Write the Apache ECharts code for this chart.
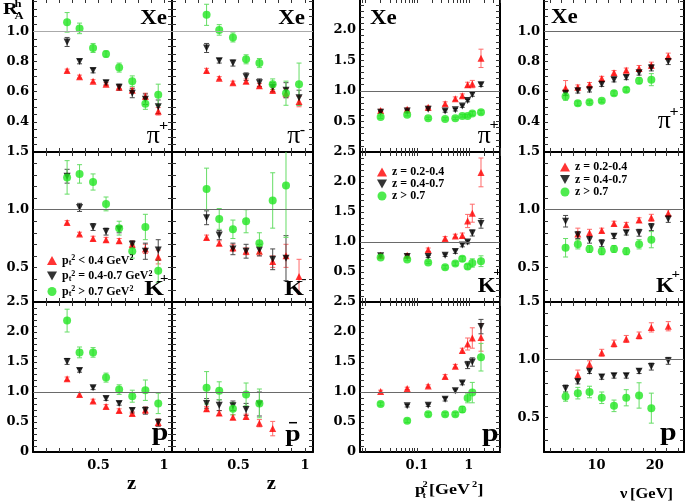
<!DOCTYPE html>
<html><head><meta charset="utf-8">
<script src="https://cdn.jsdelivr.net/npm/echarts@6/dist/echarts.min.js"></script>
<style>html,body{margin:0;padding:0;background:#fff}#c{width:685px;height:502px}</style>
</head><body><div id="c"></div><script>
// ---------- x positions ----------
const zBins   = [0.26, 0.355, 0.458, 0.557, 0.657, 0.757, 0.857, 0.955];
const pt2Bins = [0.02, 0.065, 0.165, 0.35, 0.55, 0.75, 0.95, 1.17, 1.72];
const nuBins  = [4.7, 6.8, 8.8, 10.9, 13.0, 15.1, 17.3, 19.4, 22.3];

// ---------- tick labels ----------
const zTickLabels   = [0.5, 1];
const pt2TickLabels = [0.1, 1];
const nuTickLabels  = [10, 20];
const yLabelsTop    = [0.4, 0.6, 0.8, 1.0];
const yLabelsMid    = [0.5, 1.0, 1.5];
const yLabelsWide   = [0, 0.5, 1.0, 1.5, 2.0, 2.5];
const yLabelsPtTop  = [0.5, 1.0, 1.5, 2.0];
const yLabelsPtMid  = [0.5, 1.0, 1.5, 2.0, 2.5];

// ---------- series names ----------
const ptNames = ['pt2 < 0.4', 'pt2 = 0.4-0.7', 'pt2 > 0.7'];
const zNames  = ['z = 0.2-0.4', 'z = 0.4-0.7', 'z > 0.7'];

// ---------- R vs z ----------
const zPiPlusLow     = [0.74, 0.70, 0.67, 0.65, 0.63, 0.61, 0.57, 0.47];
const zPiPlusLowErr  = [0.01, 0.01, 0.01, 0.01, 0.01, 0.015, 0.02, 0.025];
const zPiPlusMid     = [0.93, 0.80, 0.74, 0.66, 0.63, 0.59, 0.55, 0.50];
const zPiPlusMidErr  = [0.03, 0.015, 0.015, 0.015, 0.02, 0.03, 0.035, 0.045];
const zPiPlusHigh    = [1.06, 1.02, 0.89, 0.85, 0.76, 0.67, 0.52, 0.58];
const zPiPlusHighErr = [0.065, 0.035, 0.03, 0.02, 0.03, 0.035, 0.037, 0.07];

const zPiMinusLow     = [0.74, 0.69, 0.66, 0.67, 0.64, 0.61, 0.59, 0.535];
const zPiMinusLowErr  = [0.015, 0.01, 0.01, 0.015, 0.015, 0.02, 0.03, 0.035];
const zPiMinusMid     = [0.89, 0.805, 0.79, 0.70, 0.66, 0.63, 0.61, 0.56];
const zPiMinusMidErr  = [0.03, 0.015, 0.02, 0.025, 0.025, 0.03, 0.05, 0.05];
const zPiMinusHigh    = [1.11, 1.01, 0.96, 0.815, 0.79, 0.65, 0.59, 0.65];
const zPiMinusHighErr = [0.07, 0.035, 0.03, 0.03, 0.03, 0.035, 0.08, 0.14];

const zKPlusLow     = [0.89, 0.79, 0.75, 0.74, 0.73, 0.70, 0.66, 0.59];
const zKPlusLowErr  = [0.015, 0.015, 0.02, 0.02, 0.02, 0.03, 0.04, 0.06];
const zKPlusMid     = [1.29, 1.02, 0.85, 0.81, 0.83, 0.70, 0.64, 0.65];
const zKPlusMidErr  = [0.06, 0.035, 0.03, 0.03, 0.03, 0.03, 0.07, 0.09];
const zKPlusHigh    = [1.28, 1.31, 1.24, 1.05, 0.84, 0.64, 0.85, 0.47];
const zKPlusHighErr = [0.145, 0.08, 0.07, 0.06, 0.06, 0.06, 0.11, 0.10];

const zKMinusLow     = [0.76, 0.71, 0.67, 0.64, 0.64, 0.55, 0.60, 0.42];
const zKMinusLowErr  = [0.02, 0.02, 0.03, 0.03, 0.04, 0.05, 0.10, 0.15];
const zKMinusMid     = [0.93, 0.78, 0.66, 0.64, 0.65, 0.57, 0.58, null];
const zKMinusMidErr  = [0.06, 0.04, 0.05, 0.06, 0.05, 0.09, 0.195, null];
const zKMinusHigh    = [1.18, 0.92, 0.83, 0.90, 0.71, 1.08, 1.21, null];
const zKMinusHighErr = [0.18, 0.09, 0.08, 0.10, 0.09, 0.24, 0.45, null];

const zPLow     = [1.22, 0.96, 0.85, 0.76, 0.69, 0.64, 0.70, 0.49];
const zPLowErr  = [0.03, 0.03, 0.03, 0.03, 0.03, 0.03, 0.05, 0.06];
const zPMid     = [1.51, 1.36, 1.07, 0.89, 0.81, 0.69, 0.69, 0.49];
const zPMidErr  = [0.05, 0.03, 0.03, 0.03, 0.03, 0.04, 0.06, 0.06];
const zPHigh    = [2.19, 1.66, 1.66, 1.24, 1.04, 0.93, 1.03, 0.81];
const zPHighErr = [0.19, 0.09, 0.08, 0.075, 0.08, 0.10, 0.17, 0.17];

const zPbarLow     = [0.72, 0.65, 0.58, 0.59, 0.48, 0.39, null, null];
const zPbarLowErr  = [0.04, 0.04, 0.04, 0.04, 0.06, 0.12, null, null];
const zPbarMid     = [0.81, 0.78, 0.77, 0.71, 0.80, null, null, null];
const zPbarMidErr  = [0.08, 0.09, 0.08, 0.10, 0.20, null, null, null];
const zPbarHigh    = [1.07, 1.02, 0.72, 0.96, 0.81, null, null, null];
const zPbarHighErr = [0.27, 0.15, 0.10, 0.19, 0.24, null, null, null];

// ---------- R vs pt2 ----------
const ptPiPlusLow     = [0.68, 0.70, 0.73, 0.79, 0.87, 0.92, 1.10, 1.11, 1.53];
const ptPiPlusLowErr  = [0.02, 0.02, 0.02, 0.03, 0.03, 0.03, 0.04, 0.06, 0.15];
const ptPiPlusMid     = [0.65, 0.67, 0.70, 0.67, 0.69, 0.75, 0.84, 0.94, 1.10];
const ptPiPlusMidErr  = [0.02, 0.02, 0.02, 0.02, 0.02, 0.02, 0.02, 0.03, 0.03];
const ptPiPlusHigh    = [0.57, 0.61, 0.55, 0.54, 0.55, 0.59, 0.59, 0.63, 0.65];
const ptPiPlusHighErr = [0.02, 0.02, 0.02, 0.02, 0.02, 0.02, 0.02, 0.03, 0.03];

const ptKPlusLow     = [0.78, 0.78, 0.87, 1.06, 1.10, 1.11, 1.35, 1.48, 2.16];
const ptKPlusLowErr  = [0.02, 0.02, 0.03, 0.03, 0.03, 0.04, 0.11, 0.15, 0.24];
const ptKPlusMid     = [0.77, 0.76, 0.76, 0.78, 0.84, 0.95, 1.00, 1.15, 1.31];
const ptKPlusMidErr  = [0.02, 0.02, 0.02, 0.02, 0.03, 0.03, 0.03, 0.05, 0.08];
const ptKPlusHigh    = [0.74, 0.71, 0.66, 0.58, 0.64, 0.72, 0.59, 0.65, 0.68];
const ptKPlusHighErr = [0.02, 0.02, 0.02, 0.03, 0.03, 0.04, 0.04, 0.07, 0.09];

const ptPLow     = [1.01, 1.06, 1.10, 1.26, 1.43, 1.69, 1.80, 1.90, 1.91];
const ptPLowErr  = [0.02, 0.02, 0.02, 0.03, 0.03, 0.04, 0.10, 0.17, 0.23];
const ptPMid     = [null, 0.77, 0.78, 0.88, 1.02, 1.15, 1.45, 1.50, 2.09];
const ptPMidErr  = [null, 0.02, 0.02, 0.03, 0.03, 0.03, 0.06, 0.07, 0.12];
const ptPHigh    = [0.80, 0.52, 0.63, 0.63, 0.63, 0.71, 0.90, 0.99, 1.58];
const ptPHighErr = [0.03, 0.03, 0.03, 0.03, 0.03, 0.05, 0.08, 0.17, 0.23];

// ---------- R vs nu ----------
const nuPiPlusLow     = [0.624, 0.63, 0.646, 0.687, 0.725, 0.742, 0.754, 0.776, 0.836];
const nuPiPlusLowErr  = [0.05, 0.015, 0.015, 0.015, 0.015, 0.015, 0.02, 0.02, 0.02];
const nuPiPlusMid     = [0.59, 0.606, 0.613, 0.65, 0.68, 0.695, 0.725, 0.758, 0.80];
const nuPiPlusMidErr  = [0.015, 0.015, 0.015, 0.015, 0.015, 0.015, 0.015, 0.02, 0.02];
const nuPiPlusHigh    = [0.568, 0.523, 0.53, 0.54, 0.59, 0.613, 0.673, 0.68, null];
const nuPiPlusHighErr = [0.025, 0.015, 0.01, 0.01, 0.015, 0.015, 0.02, 0.04, null];

const nuKPlusLow     = [null, 0.79, 0.80, 0.82, 0.88, 0.87, 0.91, 0.93, 0.97];
const nuKPlusLowErr  = [null, 0.05, 0.03, 0.02, 0.02, 0.02, 0.02, 0.03, 0.03];
const nuKPlusMid     = [0.90, 0.78, 0.74, 0.71, 0.77, 0.80, 0.80, 0.85, 0.92];
const nuKPlusMidErr  = [0.05, 0.03, 0.03, 0.03, 0.02, 0.02, 0.03, 0.03, 0.03];
const nuKPlusHigh    = [0.67, 0.70, 0.66, 0.64, 0.66, 0.64, 0.70, 0.74, null];
const nuKPlusHighErr = [0.08, 0.04, 0.03, 0.03, 0.03, 0.03, 0.04, 0.07, null];

const nuPLow     = [null, 0.87, 0.96, 1.06, 1.14, 1.18, 1.21, 1.28, 1.29];
const nuPLowErr  = [null, 0.04, 0.03, 0.03, 0.03, 0.03, 0.03, 0.04, 0.04];
const nuPMid     = [0.75, 0.81, 0.90, 0.85, 0.86, 0.86, 0.90, 0.94, 0.99];
const nuPMidErr  = [0.03, 0.02, 0.02, 0.02, 0.02, 0.02, 0.02, 0.03, 0.03];
const nuPHigh    = [0.68, 0.71, 0.72, 0.67, 0.60, 0.67, 0.69, 0.58, null];
const nuPHighErr = [0.04, 0.05, 0.05, 0.05, 0.05, 0.07, 0.11, 0.13, null];

// ---------- layout ----------
const COLS = [{left:33,width:139},{left:172,width:141},{left:360,width:140},{left:544,width:140}];
const ROWS = [{top:-1,height:153},{top:152,height:150},{top:302,height:150}];

const panels = [
  {row:0,col:0,x:zBins,sets:[[zPiPlusLow,zPiPlusLowErr],[zPiPlusMid,zPiPlusMidErr],[zPiPlusHigh,zPiPlusHighErr]]},
  {row:0,col:1,x:zBins,sets:[[zPiMinusLow,zPiMinusLowErr],[zPiMinusMid,zPiMinusMidErr],[zPiMinusHigh,zPiMinusHighErr]]},
  {row:0,col:2,x:pt2Bins,sets:[[ptPiPlusLow,ptPiPlusLowErr],[ptPiPlusMid,ptPiPlusMidErr],[ptPiPlusHigh,ptPiPlusHighErr]]},
  {row:0,col:3,x:nuBins,sets:[[nuPiPlusLow,nuPiPlusLowErr],[nuPiPlusMid,nuPiPlusMidErr],[nuPiPlusHigh,nuPiPlusHighErr]]},
  {row:1,col:0,x:zBins,sets:[[zKPlusLow,zKPlusLowErr],[zKPlusMid,zKPlusMidErr],[zKPlusHigh,zKPlusHighErr]]},
  {row:1,col:1,x:zBins,sets:[[zKMinusLow,zKMinusLowErr],[zKMinusMid,zKMinusMidErr],[zKMinusHigh,zKMinusHighErr]]},
  {row:1,col:2,x:pt2Bins,sets:[[ptKPlusLow,ptKPlusLowErr],[ptKPlusMid,ptKPlusMidErr],[ptKPlusHigh,ptKPlusHighErr]]},
  {row:1,col:3,x:nuBins,sets:[[nuKPlusLow,nuKPlusLowErr],[nuKPlusMid,nuKPlusMidErr],[nuKPlusHigh,nuKPlusHighErr]]},
  {row:2,col:0,x:zBins,sets:[[zPLow,zPLowErr],[zPMid,zPMidErr],[zPHigh,zPHighErr]]},
  {row:2,col:1,x:zBins,sets:[[zPbarLow,zPbarLowErr],[zPbarMid,zPbarMidErr],[zPbarHigh,zPbarHighErr]]},
  {row:2,col:2,x:pt2Bins,sets:[[ptPLow,ptPLowErr],[ptPMid,ptPMidErr],[ptPHigh,ptPHighErr]]},
  {row:2,col:3,x:nuBins,sets:[[nuPLow,nuPLowErr],[nuPMid,nuPMidErr],[nuPHigh,nuPHighErr]]}
];

const STY = [
  {symbol:'triangle', rotate:0,   size:7, color:'#ff0000', err:'#ff6a6a'},
  {symbol:'triangle', rotate:180, size:7, color:'#000000', err:'#4a4a4a'},
  {symbol:'circle',   rotate:0,   size:8, color:'#22e622', err:'#66dd66'}
];
const LEGEND_ICONS = ['triangle', 'path://M0,0L10,0L5,9Z', 'circle'];

function steps(a, b, s){ const o=[]; const n=Math.round((b-a)/s); for(let i=0;i<=n;i++) o.push(+(a+i*s).toFixed(5)); return o; }
function logTicks(){ const o=[0.009]; [0.01,0.1,1].forEach(d=>{ for(let k=1;k<=9;k++){ const v=+(k*d).toFixed(5); if(v<=4) o.push(v);} }); return o; }
const near=(a,b)=>Math.abs(a-b)<1e-6*Math.max(1,Math.abs(b));

function xCfg(col){
  if (col<=1) return {type:'value', min:0, max:1.06, ticks:steps(0.1,1.0,0.1), labels:zTickLabels, fmt:v=>near(v,1)?'1':String(+v.toFixed(2))};
  if (col===2) return {type:'log', min:0.008, max:4, ticks:logTicks(), labels:pt2TickLabels, fmt:v=>near(v,0.1)?'0.1':(near(v,1)?'1':'')};
  return {type:'value', min:1, max:25, ticks:steps(2,24,2), labels:nuTickLabels, fmt:v=>String(Math.round(v))};
}
function yCfg(row, col){
  const f = v => near(v,0)?'0':v.toFixed(1);
  if (col===2){
    const labels = row===0?yLabelsPtTop:(row===1?yLabelsPtMid:yLabelsWide);
    return {min:0, max:2.5, ticks:steps(0.1,2.4,0.1), labels, fmt:f};
  }
  if (row===0) return {min:0.2, max:1.215, ticks:steps(0.25,1.2,0.05), labels:yLabelsTop, fmt:f};
  if (row===1 || col===3) return {min:0.2, max:1.5, ticks:steps(0.3,1.4,0.1), labels:yLabelsMid, fmt:f};
  return {min:0, max:2.5, ticks:steps(0.1,2.4,0.1), labels:yLabelsWide, fmt:f};
}

const labelFont = {color:'#000', fontFamily:'DejaVu Serif', fontWeight:'bold', fontSize:13};
const grids=[], xAxes=[], yAxes=[], series=[];

panels.forEach((p, gi) => {
  const c = COLS[p.col], r = ROWS[p.row];
  grids.push({left:c.left, top:r.top, width:c.width, height:r.height, containLabel:false, outerBoundsMode:'none'});
  const xc = xCfg(p.col), yc = yCfg(p.row, p.col);
  ['bottom','top'].forEach(pos => xAxes.push({
    gridIndex:gi, type:xc.type, logBase:10, position:pos, min:xc.min, max:xc.max,
    axisLine:{show:true, onZero:false, lineStyle:{color:'#000', width:2}},
    axisTick:{show:true, inside:true, length:4, customValues:xc.ticks, lineStyle:{color:'#333', width:1}},
    axisLabel:{show: pos==='bottom' && p.row===2, customValues:xc.labels, formatter:xc.fmt, margin:7, ...labelFont},
    splitLine:{show:false}, minorTick:{show:false}
  }));
  ['left','right'].forEach(pos => yAxes.push({
    gridIndex:gi, type:'value', position:pos, min:yc.min, max:yc.max,
    axisLine:{show:true, onZero:false, lineStyle:{color:'#000', width:2}},
    axisTick:{show:true, inside:true, length:4, customValues:yc.ticks, lineStyle:{color:'#333', width:1}},
    axisLabel:{show: pos==='left' && p.col!==1, customValues:yc.labels, formatter:yc.fmt, margin:4, ...labelFont},
    splitLine:{show:false}, minorTick:{show:false}
  }));
  const names = p.col<=1 ? ptNames : zNames;
  const lineColor = (p.row===0 && p.col<=1) ? '#aaaaaa' : '#6a6a6a';
  // error bars
  p.sets.forEach((s, k) => {
    const st = STY[k];
    const data = [];
    p.x.forEach((xv, i) => { if (s[0][i]!=null) data.push([xv, s[0][i], s[1][i]]); });
    series.push({
      type:'custom', name:'err'+gi+'_'+k, xAxisIndex:2*gi, yAxisIndex:2*gi, z:1, silent:true,
      encode:{x:0, y:1},
      renderItem:(params, api) => {
        const xv=api.value(0), yv=api.value(1), e=api.value(2);
        const lo=api.coord([xv, yv-e]), hi=api.coord([xv, yv+e]);
        const cs=params.coordSys, top=cs.y, bot=cs.y+cs.height;
        const yb=Math.min(bot, lo[1]), yt=Math.max(top, hi[1]);
        const w=2.5, sty={stroke:st.err, lineWidth:1};
        const ch=[{type:'line', shape:{x1:lo[0], y1:yb, x2:lo[0], y2:yt}, style:sty}];
        if (lo[1]<=bot) ch.push({type:'line', shape:{x1:lo[0]-w, y1:lo[1], x2:lo[0]+w, y2:lo[1]}, style:sty});
        if (hi[1]>=top) ch.push({type:'line', shape:{x1:hi[0]-w, y1:hi[1], x2:hi[0]+w, y2:hi[1]}, style:sty});
        return {type:'group', children:ch};
      },
      data
    });
  });
  // points
  p.sets.forEach((s, k) => {
    const st = STY[k];
    const data = [];
    p.x.forEach((xv, i) => { if (s[0][i]!=null) data.push([xv, s[0][i]]); });
    const ser = {
      type:'scatter', name:names[k], xAxisIndex:2*gi, yAxisIndex:2*gi, z:2 + k*0.1,
      symbol:st.symbol, symbolRotate:st.rotate, symbolSize:st.size,
      itemStyle:{color:st.color}, data, silent:true
    };
    if (k===0) ser.markLine = {silent:true, symbol:['none','none'], label:{show:false}, animation:false,
      lineStyle:{color:lineColor, width:1, type:'solid'}, data:[{yAxis:1}]};
    series.push(ser);
  });
});

const legendText = {
  'pt2 < 0.4':'p{sub|t}{sup|2} < 0.4 GeV{sup|2}',
  'pt2 = 0.4-0.7':'p{sub|t}{sup|2} = 0.4-0.7 GeV{sup|2}',
  'pt2 > 0.7':'p{sub|t}{sup|2} > 0.7 GeV{sup|2}'
};
const legendStyle = {
  color:'#000', fontFamily:'Liberation Serif', fontWeight:'bold', fontSize:12, lineHeight:13,
  rich:{
    sup:{fontSize:8, fontFamily:'Liberation Serif', fontWeight:'bold', verticalAlign:'top', lineHeight:6},
    sub:{fontSize:8, fontFamily:'Liberation Serif', fontWeight:'bold', verticalAlign:'bottom', lineHeight:6}
  }
};
const legendData = names => names.map((n, k) => ({name:n, icon:LEGEND_ICONS[k]}));
const legends = [
  {data:legendData(ptNames), left:42, top:249, orient:'vertical', itemWidth:10, itemHeight:9, itemGap:2.5, selectedMode:false,
   formatter:n=>legendText[n], textStyle:legendStyle},
  {data:legendData(zNames), left:372, top:161, orient:'vertical', itemWidth:10, itemHeight:9, itemGap:0, selectedMode:false,
   textStyle:{color:'#000', fontFamily:'Liberation Serif', fontWeight:'bold', fontSize:12, lineHeight:11}},
  {data:legendData(zNames), left:555, top:156, orient:'vertical', itemWidth:10, itemHeight:9, itemGap:0.5, selectedMode:false,
   textStyle:{color:'#000', fontFamily:'Liberation Serif', fontWeight:'bold', fontSize:12, lineHeight:11.5}}
];

function T(x, y, text, size, o){
  o = o || {};
  const font = (o.weight||'bold') + ' ' + size + 'px "Liberation Serif"';
  return {type:'text', x, y, scaleX:(o.sx==null?1.15:o.sx), silent:true, z:100,
    style:{text, font, fill:'#000', align:o.align||'center', verticalAlign:'middle',
           textAlign:o.align||'center', textVerticalAlign:'middle'}};
}
const graphics = [
  T(3, 9.5, 'R', 17, {align:'left', sx:1.2}), T(14.5, 4, 'h', 11, {align:'left'}), T(14.5, 16, 'A', 11, {align:'left'}),
  T(167, 18.5, 'Xe', 20, {align:'right'}), T(305, 18.5, 'Xe', 20, {align:'right'}),
  T(370, 18.5, 'Xe', 20, {align:'left'}), T(551, 18, 'Xe', 20, {align:'left'}),
  // pi labels
  T(153.3, 136.3, 'π', 26, {weight:'normal', sx:1}), T(163.5, 126, '+', 14),
  T(293.7, 136.3, 'π', 26, {weight:'normal', sx:1}), T(302.5, 130.5, '-', 14),
  T(484.2, 136.3, 'π', 26, {weight:'normal', sx:1}), T(494.2, 125.7, '+', 14),
  T(664.2, 121.3, 'π', 26, {weight:'normal', sx:1}), T(674.2, 112, '+', 14),
  // K labels
  T(154.2, 289, 'K', 22), T(164.2, 279, '+', 13),
  T(294.2, 289, 'K', 22), T(304, 279.5, '-', 13),
  T(486.7, 286.7, 'K', 20), T(497.5, 272.3, '+', 13),
  T(665, 286.7, 'K', 20), T(675.8, 274.5, '+', 13),
  // p labels
  T(160, 433.5, 'p', 26), T(293, 434.7, 'p', 24), T(490.3, 434.3, 'p', 26), T(668.3, 433.5, 'p', 26),
  // axis titles
  T(131.7, 484, 'z', 18), T(271.3, 484.7, 'z', 18),
  T(415, 490.5, 'p', 15, {align:'left', sx:1.2}), T(422.5, 496, 't', 9, {align:'left'}), T(422.5, 485, '2', 9, {align:'left'}),
  T(429, 490.5, '[GeV', 15, {align:'left', sx:1.2}), T(472, 485, '2', 9, {align:'left'}), T(477.5, 490.5, ']', 15, {align:'left', sx:1.2}),
  T(620, 494.5, 'ν', 15, {align:'left', sx:1.1}), T(630, 494.5, '[GeV]', 15, {align:'left', sx:1.1}),
  // pbar overline
  {type:'line', silent:true, z:100, shape:{x1:289, y1:422.7, x2:297, y2:422.7}, style:{stroke:'#000', lineWidth:1.5}}
];

const chart = echarts.init(document.getElementById('c'), null, {renderer:'canvas'});
chart.setOption({
  animation:false, backgroundColor:'#ffffff',
  grid:grids, xAxis:xAxes, yAxis:yAxes, series, legend:legends, graphic:graphics
});
</script></body></html>
